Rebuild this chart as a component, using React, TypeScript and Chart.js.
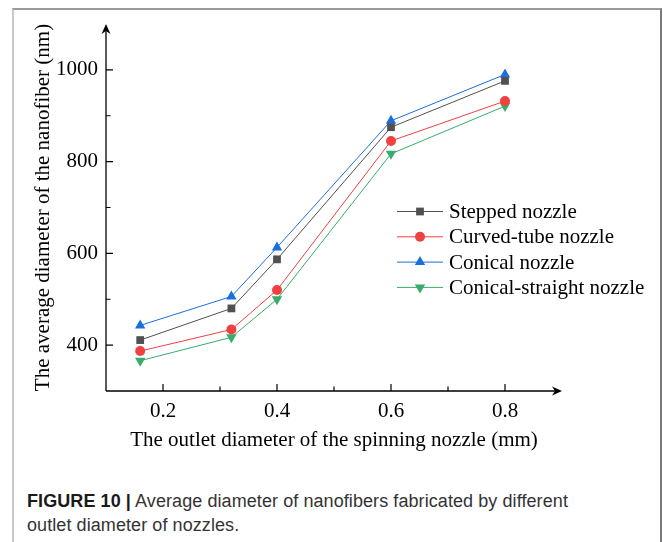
import React, { useEffect, useRef } from "react";
import { Chart, registerables } from "chart.js";

Chart.register(...registerables);

// ---- data ----
const outletDiameters = [0.16, 0.32, 0.4, 0.6, 0.8];
const seriesNames = ["Stepped nozzle", "Curved-tube nozzle", "Conical nozzle", "Conical-straight nozzle"];
const steppedValues = [411, 480, 587, 875, 976];
const curvedTubeValues = [387, 434, 520, 845, 932];
const conicalValues = [443, 506, 613, 889, 990];
const conicalStraightValues = [366, 417, 500, 817, 921];
const yMajorTicks = [400, 600, 800, 1000];
const yMinorTicks = [500, 700, 900];
const xMajorTicks = [0.2, 0.4, 0.6, 0.8];
const xMinorTicks = [0.3, 0.5, 0.7];
const xAxisTitle = "The outlet diameter of the spinning nozzle (mm)";
const yAxisTitle = "The average diameter of the nanofiber (nm)";
const captionBold = "FIGURE 10 |";
const captionLine1 = " Average diameter of nanofibers fabricated by different";
const captionLine2 = "outlet diameter of nozzles.";

const seriesValues = [steppedValues, curvedTubeValues, conicalValues, conicalStraightValues];
const seriesColors = ["#515151", "#F14040", "#1A6FDF", "#37AD6B"];
const seriesStyles = ["rect", "circle", "triangle", "triangle"];
const seriesRotation = [0, 0, 0, 180];
const seriesRadius = [5.5, 5, 6, 6];

const SERIF = '"Liberation Serif", "Times New Roman", serif';

function drawMarker(ctx: CanvasRenderingContext2D, style: string, rot: number, r: number, x: number, y: number, color: string) {
  ctx.save();
  ctx.fillStyle = color;
  ctx.translate(x, y);
  ctx.rotate((rot * Math.PI) / 180);
  ctx.beginPath();
  if (style === "circle") {
    ctx.arc(0, 0, r, 0, Math.PI * 2);
  } else if (style === "rect") {
    const s = r / Math.SQRT2;
    ctx.rect(-s, -s, 2 * s, 2 * s);
  } else {
    ctx.moveTo(0, -r);
    ctx.lineTo((r * Math.sqrt(3)) / 2, r / 2);
    ctx.lineTo((-r * Math.sqrt(3)) / 2, r / 2);
    ctx.closePath();
  }
  ctx.fill();
  ctx.restore();
}

const axesPlugin = {
  id: "originAxes",
  afterDraw(chart: any) {
    const { ctx, chartArea: ca, scales } = chart;
    const xs = scales.x;
    const ys = scales.y;
    ctx.save();
    ctx.strokeStyle = "#000";
    ctx.fillStyle = "#000";
    ctx.lineWidth = 1.3;
    // axis lines
    ctx.beginPath();
    ctx.moveTo(ca.left, ca.bottom);
    ctx.lineTo(ca.right - 4, ca.bottom);
    ctx.moveTo(ca.left, ca.bottom);
    ctx.lineTo(ca.left, ca.top + 4);
    ctx.stroke();
    // arrows
    const tipX = ca.right;
    ctx.beginPath();
    ctx.moveTo(tipX, ca.bottom);
    ctx.lineTo(tipX - 10, ca.bottom - 4.5);
    ctx.lineTo(tipX - 7, ca.bottom);
    ctx.lineTo(tipX - 10, ca.bottom + 4.5);
    ctx.closePath();
    ctx.fill();
    ctx.beginPath();
    ctx.moveTo(ca.left, ca.top);
    ctx.lineTo(ca.left - 4.5, ca.top + 10);
    ctx.lineTo(ca.left, ca.top + 7);
    ctx.lineTo(ca.left + 4.5, ca.top + 10);
    ctx.closePath();
    ctx.fill();
    // ticks (inward)
    ctx.lineWidth = 1.2;
    ctx.beginPath();
    yMajorTicks.forEach((v) => {
      const p = ys.getPixelForValue(v);
      ctx.moveTo(ca.left, p);
      ctx.lineTo(ca.left + 7, p);
    });
    yMinorTicks.forEach((v) => {
      const p = ys.getPixelForValue(v);
      ctx.moveTo(ca.left, p);
      ctx.lineTo(ca.left + 4.5, p);
    });
    xMajorTicks.forEach((v) => {
      const p = xs.getPixelForValue(v);
      ctx.moveTo(p, ca.bottom);
      ctx.lineTo(p, ca.bottom - 7);
    });
    xMinorTicks.forEach((v) => {
      const p = xs.getPixelForValue(v);
      ctx.moveTo(p, ca.bottom);
      ctx.lineTo(p, ca.bottom - 4.5);
    });
    ctx.stroke();

    // legend
    const lx0 = ca.left + 291;
    const lx1 = ca.left + 337;
    const tx = ca.left + 343;
    const ly0 = ca.top + 187.5;
    const step = 25.3;
    ctx.font = `21px ${SERIF}`;
    ctx.textBaseline = "middle";
    ctx.textAlign = "left";
    chart.data.datasets.forEach((ds: any, i: number) => {
      const y = ly0 + i * step;
      ctx.strokeStyle = ds.borderColor;
      ctx.lineWidth = 1;
      ctx.beginPath();
      ctx.moveTo(lx0, y);
      ctx.lineTo(lx1, y);
      ctx.stroke();
      drawMarker(ctx, ds.pointStyle, ds.pointRotation, ds.pointRadius, (lx0 + lx1) / 2, y, ds.pointBackgroundColor);
      ctx.fillStyle = "#000";
      ctx.fillText(ds.label, tx, y + 1);
    });
    ctx.restore();
  },
};

export default function App() {
  const canvasRef = useRef<HTMLCanvasElement | null>(null);

  useEffect(() => {
    const canvas = canvasRef.current;
    if (!canvas) return;
    const datasets = seriesNames.map((name, i) => ({
      label: name,
      data: outletDiameters.map((x, j) => ({ x, y: seriesValues[i][j] })),
      borderColor: seriesColors[i],
      backgroundColor: seriesColors[i],
      pointBackgroundColor: seriesColors[i],
      pointBorderColor: seriesColors[i],
      pointBorderWidth: 0,
      pointStyle: seriesStyles[i],
      pointRotation: seriesRotation[i],
      pointRadius: seriesRadius[i],
      borderWidth: 1,
      tension: 0,
    }));
    const chart = new Chart(canvas, {
      type: "line",
      data: { datasets },
      plugins: [axesPlugin],
      options: {
        animation: false,
        responsive: false,
        maintainAspectRatio: false,
        layout: { padding: { left: 0, top: 24, right: 101, bottom: 0 } },
        plugins: { legend: { display: false }, tooltip: { enabled: false } },
        scales: {
          x: {
            type: "linear",
            min: 0.1,
            max: 0.9,
            grid: { display: false, drawTicks: false },
            border: { display: false },
            afterFit: (s: any) => {
              s.height = 79;
            },
            ticks: {
              stepSize: 0.1,
              padding: 8,
              color: "#000",
              font: { family: SERIF, size: 21 },
              maxRotation: 0,
              autoSkip: false,
              callback: (v: any) => {
                const k = Math.round(Number(v) * 10);
                return xMajorTicks.some((t) => Math.round(t * 10) === k) ? (k / 10).toFixed(1) : "";
              },
            },
            title: {
              display: true,
              text: xAxisTitle,
              color: "#000",
              font: { family: SERIF, size: 21 },
              padding: { top: 0, bottom: 17 },
            },
          },
          y: {
            min: 300,
            max: 1100,
            grid: { display: false, drawTicks: false },
            border: { display: false },
            afterFit: (s: any) => {
              s.width = 106;
            },
            ticks: {
              stepSize: 100,
              padding: 8,
              color: "#000",
              font: { family: SERIF, size: 21 },
              autoSkip: false,
              callback: (v: any) => (yMajorTicks.includes(Number(v)) ? String(v) : ""),
            },
            title: {
              display: true,
              text: yAxisTitle,
              color: "#000",
              font: { family: SERIF, size: 21 },
              padding: { top: 31, bottom: 0 },
            },
          },
        },
      },
    } as any);
    return () => chart.destroy();
  }, []);

  return (
    <div style={{ position: "absolute", left: 0, top: 0, width: 663, height: 542, overflow: "hidden", background: "#fff" }}>
      <div
        style={{
          position: "absolute",
          left: 12,
          top: 8,
          width: 646,
          height: 600,
          borderTop: "2px solid #999",
          borderRight: "2px solid #7a7a7a",
          borderLeft: "2px solid #c8c8c8",
        }}
      />
      <canvas ref={canvasRef} width={663} height={470} style={{ position: "absolute", left: 0, top: 0, display: "block" }} />
      <div
        style={{
          position: "absolute",
          left: 27,
          top: 489,
          width: 620,
          fontFamily: '"Liberation Sans", Arial, sans-serif',
          fontSize: 18,
          letterSpacing: "0.08px",
          lineHeight: "24px",
          color: "#333",
          whiteSpace: "nowrap",
        }}
      >
        <span style={{ fontWeight: "bold", color: "#1a1a1a" }}>{captionBold}</span>
        {captionLine1}
        <br />
        {captionLine2}
      </div>
    </div>
  );
}
